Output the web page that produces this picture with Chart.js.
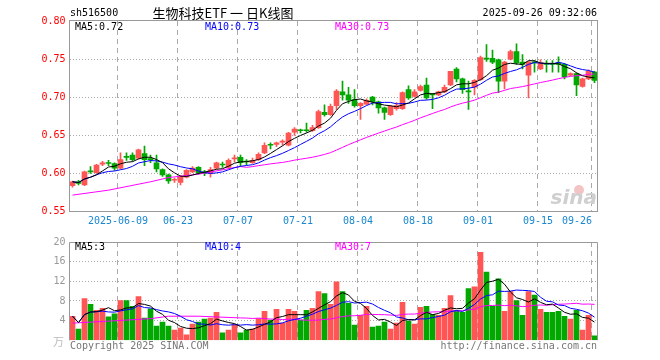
<!DOCTYPE html>
<html>
<head>
<meta charset="utf-8">
<script src="https://cdn.jsdelivr.net/npm/chart.js@4"></script>
<style>
  body { margin: 0; background: #fff; width: 660px; height: 360px; overflow: hidden; position: relative; }
  #kline { position: absolute; left: 0; top: 0; }
  #vol { position: absolute; left: 0; top: 232px; }
</style>
</head>
<body>
<canvas id="kline" width="660" height="232"></canvas>
<canvas id="vol" width="660" height="128"></canvas>
<script>
const dates = ('05-27 05-28 05-29 05-30 06-03 06-04 06-05 06-06 06-09 06-10 06-11 06-12 06-13 06-16 06-17 06-18 06-19 06-20 ' +
  '06-23 06-24 06-25 06-26 06-27 06-30 07-01 07-02 07-03 07-04 07-07 07-08 07-09 07-10 07-11 07-14 07-15 07-16 07-17 07-18 ' +
  '07-21 07-22 07-23 07-24 07-25 07-28 07-29 07-30 07-31 08-01 08-04 08-05 08-06 08-07 08-08 08-11 08-12 08-13 08-14 08-15 ' +
  '08-18 08-19 08-20 08-21 08-22 08-25 08-26 08-27 08-28 08-29 09-01 09-02 09-03 09-04 09-05 09-08 09-09 09-10 09-11 09-12 ' +
  '09-15 09-16 09-17 09-18 09-19 09-22 09-23 09-24 09-25 09-26').split(' ');

const tickDates = ['06-09', '06-23', '07-07', '07-21', '08-04', '08-18', '09-01', '09-15', '09-26'];
const tickText = ['2025-06-09', '06-23', '07-07', '07-21', '08-04', '08-18', '09-01', '09-15', '09-26'];

const opens = [
  0.584, 0.589, 0.585, 0.603, 0.601, 0.612, 0.614, 0.613, 0.607, 0.622,
  0.624, 0.620, 0.626, 0.619, 0.614, 0.605, 0.598, 0.591, 0.588, 0.595,
  0.602, 0.608, 0.602, 0.600, 0.607, 0.612, 0.608, 0.619, 0.621, 0.616,
  0.614, 0.618, 0.627, 0.638, 0.638, 0.641, 0.637, 0.654, 0.657, 0.657,
  0.656, 0.660, 0.680, 0.677, 0.689, 0.707, 0.703, 0.697, 0.689, 0.691,
  0.700, 0.694, 0.686, 0.677, 0.685, 0.685, 0.710, 0.701, 0.709, 0.716,
  0.704, 0.703, 0.707, 0.716, 0.737, 0.724, 0.708, 0.713, 0.723, 0.751,
  0.751, 0.749, 0.721, 0.750, 0.760, 0.746, 0.729, 0.746, 0.737, 0.744,
  0.744, 0.745, 0.743, 0.729, 0.731, 0.714, 0.724, 0.733
];
const highs = [
  0.590, 0.591, 0.603, 0.609, 0.612, 0.616, 0.617, 0.614, 0.627, 0.627,
  0.627, 0.632, 0.636, 0.624, 0.624, 0.606, 0.599, 0.594, 0.597, 0.605,
  0.609, 0.609, 0.604, 0.608, 0.615, 0.615, 0.619, 0.624, 0.624, 0.618,
  0.620, 0.627, 0.640, 0.640, 0.641, 0.644, 0.654, 0.660, 0.658, 0.666,
  0.663, 0.683, 0.690, 0.691, 0.710, 0.721, 0.713, 0.710, 0.693, 0.698,
  0.701, 0.695, 0.687, 0.689, 0.693, 0.707, 0.715, 0.710, 0.716, 0.725,
  0.705, 0.708, 0.716, 0.734, 0.739, 0.725, 0.721, 0.723, 0.754, 0.769,
  0.762, 0.750, 0.747, 0.762, 0.770, 0.756, 0.747, 0.748, 0.749, 0.748,
  0.748, 0.753, 0.744, 0.732, 0.732, 0.725, 0.736, 0.734
];
const lows = [
  0.582, 0.585, 0.584, 0.600, 0.600, 0.610, 0.610, 0.604, 0.606, 0.617,
  0.616, 0.619, 0.610, 0.614, 0.602, 0.596, 0.587, 0.588, 0.585, 0.594,
  0.601, 0.599, 0.597, 0.595, 0.606, 0.608, 0.607, 0.615, 0.609, 0.611,
  0.613, 0.617, 0.626, 0.632, 0.635, 0.637, 0.636, 0.650, 0.653, 0.654,
  0.655, 0.659, 0.675, 0.676, 0.684, 0.696, 0.692, 0.687, 0.671, 0.690,
  0.690, 0.679, 0.671, 0.676, 0.683, 0.684, 0.697, 0.700, 0.708, 0.697,
  0.685, 0.702, 0.706, 0.715, 0.720, 0.705, 0.684, 0.703, 0.722, 0.747,
  0.744, 0.706, 0.711, 0.749, 0.743, 0.737, 0.699, 0.733, 0.736, 0.733,
  0.733, 0.733, 0.724, 0.728, 0.702, 0.713, 0.723, 0.719
];
const closes = [
  0.589, 0.587, 0.602, 0.602, 0.611, 0.614, 0.613, 0.607, 0.618, 0.621,
  0.618, 0.631, 0.618, 0.618, 0.606, 0.598, 0.590, 0.592, 0.596, 0.604,
  0.607, 0.601, 0.600, 0.605, 0.614, 0.611, 0.617, 0.620, 0.614, 0.615,
  0.617, 0.625, 0.637, 0.637, 0.640, 0.642, 0.653, 0.658, 0.656, 0.656,
  0.660, 0.681, 0.677, 0.688, 0.708, 0.703, 0.696, 0.689, 0.692, 0.696,
  0.694, 0.686, 0.680, 0.688, 0.689, 0.706, 0.699, 0.707, 0.714, 0.699,
  0.703, 0.707, 0.713, 0.734, 0.724, 0.710, 0.707, 0.722, 0.752, 0.750,
  0.746, 0.721, 0.746, 0.760, 0.745, 0.743, 0.746, 0.745, 0.745, 0.743,
  0.743, 0.743, 0.727, 0.731, 0.716, 0.724, 0.734, 0.722
];
// volume, 万手
const volumes = [
  4.9, 2.3, 8.5, 7.3, 6.1, 6.5, 4.8, 5.4, 8.1, 8.1,
  6.9, 8.9, 4.5, 6.4, 2.9, 3.7, 2.9, 2.1, 2.5, 1.1,
  3.3, 3.7, 4.3, 4.5, 5.7, 1.5, 2.1, 3.2, 1.5, 2.1,
  2.3, 4.4, 5.9, 4.1, 6.3, 3.5, 6.3, 5.9, 4.1, 6.1,
  6.5, 9.9, 9.5, 7.3, 11.9, 9.9, 7.5, 3.1, 5.1, 6.9,
  2.7, 2.9, 3.7, 2.3, 3.5, 7.7, 3.9, 3.3, 6.7, 6.9,
  5.3, 5.1, 6.5, 9.1, 6.1, 5.7, 10.5, 10.9, 17.9, 13.9,
  6.9, 12.5, 5.9, 9.9, 8.1, 5.1, 9.9, 9.2, 6.3, 5.7,
  5.7, 5.9, 4.9, 4.3, 6.1, 2.1, 5.1, 0.9
];

// MA30 before a full 30-day window exists
const ma30Days = [0, 6, 13, 16, 21, 28];
const ma30Price = [0.5715, 0.578, 0.589, 0.5945, 0.599, 0.609];
const ma30Vol = [3.5, 3.9, 4.4, 4.9, 4.9, 4.55];

const red = '#ff5555';
const green = '#00a800';
const mono = { family: '"DejaVu Sans Mono", monospace', size: 10 };

function avg(a) { return a.reduce((s, v) => s + v, 0) / a.length; }
function movingAvg(arr, n) {
  return arr.map((_, i) => avg(arr.slice(Math.max(0, i - n + 1), i + 1)));
}
function ma30Line(arr, readVals) {
  return arr.map((_, i) => {
    if (i >= 29) return avg(arr.slice(i - 29, i + 1));
    const k = ma30Days.indexOf(i);
    return k >= 0 ? readVals[k] : null;
  });
}

const colors = closes.map((c, i) => c >= opens[i] ? red : green);
const tickIdx = tickDates.map(d => dates.indexOf(d));

function maLine(data, color) {
  return {
    type: 'line', data: data, borderColor: color, borderWidth: 1,
    pointRadius: 0, tension: 0, spanGaps: true, order: 0
  };
}

function xAxis(h) {
  return {
    offset: true,
    grid: { offset: true, drawTicks: false, color: c => tickIdx.includes(c.index) ? '#aaa' : 'rgba(0,0,0,0)' },
    border: { display: false, dash: [5, 4] },
    ticks: { display: false, autoSkip: false },
    afterFit: s => { s.height = h; }
  };
}

function text(ctx, str, x, y, color, font, align) {
  ctx.fillStyle = color;
  ctx.font = font;
  ctx.textAlign = align || 'left';
  ctx.textBaseline = 'middle';
  ctx.fillText(str, x, y);
}

const monoFont = '10px "DejaVu Sans Mono", monospace';

const klineDeco = {
  id: 'klineDeco',
  afterDraw(chart) {
    const { ctx, chartArea: a, scales: { x } } = chart;
    ctx.save();
    ctx.strokeStyle = '#999';
    ctx.lineWidth = 1;
    ctx.strokeRect(a.left, a.top - 0.5, a.right - a.left, a.bottom - a.top + 0.5);

    text(ctx, 'sh516500', 70, 13, '#000', monoFont);
    text(ctx, '生物科技ETF 一 日K线图', 223, 13, '#000', '13px "Noto Sans CJK SC"', 'center');
    text(ctx, '2025-09-26 09:32:06', 597, 13, '#000', monoFont, 'right');

    text(ctx, 'MA5:0.72', 75, 27, '#000', monoFont);
    text(ctx, 'MA10:0.73', 205, 27, '#0000ff', monoFont);
    text(ctx, 'MA30:0.73', 335, 27, '#ff00ff', monoFont);

    const half = (x.getPixelForValue(1) - x.getPixelForValue(0)) / 2;
    tickIdx.forEach((idx, k) => {
      const px = x.getPixelForValue(idx) - half + 0.5;
      const last = k === tickIdx.length - 1;
      text(ctx, tickText[k], px, 221, '#1a88d0', monoFont, last ? 'right' : 'center');
    });

    // sina watermark
    ctx.fillStyle = '#f3c4c4';
    ctx.beginPath();
    ctx.arc(579, 190, 5, 0, Math.PI * 2);
    ctx.fill();
    text(ctx, 'sina', 597, 199, '#cfcfcf', 'italic bold 20px "DejaVu Sans"', 'right');
    ctx.restore();
  }
};

const volDeco = {
  id: 'volDeco',
  afterDraw(chart) {
    const { ctx, chartArea: a } = chart;
    ctx.save();
    ctx.strokeStyle = '#999';
    ctx.lineWidth = 1;
    const top = Math.round(a.top) + 0.5;
    ctx.beginPath();
    ctx.moveTo(a.left, a.bottom);
    ctx.lineTo(a.left, top);
    ctx.lineTo(a.right, top);
    ctx.lineTo(a.right, a.bottom);
    ctx.stroke();

    text(ctx, 'MA5:3', 75, 15, '#000', monoFont);
    text(ctx, 'MA10:4', 205, 15, '#0000ff', monoFont);
    text(ctx, 'MA30:7', 335, 15, '#ff00ff', monoFont);

    text(ctx, '万', 64, 110, '#bbb', '11px "Noto Sans CJK SC"', 'right');
    text(ctx, 'Copyright 2025 SINA.COM', 70, 114, '#777', monoFont);
    text(ctx, 'http://finance.sina.com.cn', 597, 114, '#777', monoFont, 'right');
    ctx.restore();
  }
};

new Chart(document.getElementById('kline'), {
  type: 'bar',
  data: {
    labels: dates,
    datasets: [
      maLine(movingAvg(closes, 5), '#000'),
      maLine(movingAvg(closes, 10), '#0000ff'),
      maLine(ma30Line(closes, ma30Price), '#ff00ff'),
      {
        data: opens.map((o, i) => [o, closes[i]]),
        backgroundColor: colors, barThickness: 5, minBarLength: 1,
        grouped: false, borderWidth: 0, order: 1
      },
      {
        data: lows.map((l, i) => [l, highs[i]]),
        backgroundColor: colors, barThickness: 1,
        grouped: false, borderWidth: 0, order: 2
      }
    ]
  },
  options: {
    responsive: false,
    animation: false,
    layout: { padding: { left: 0, right: 62.5, top: 21, bottom: 0 } },
    plugins: { legend: { display: false }, tooltip: { enabled: false } },
    scales: {
      x: xAxis(20.5),
      y: {
        min: 0.55, max: 0.80,
        ticks: { stepSize: 0.05, color: '#ff0000', font: mono, padding: 4, callback: v => v.toFixed(2) },
        grid: { drawTicks: false, color: c => (c.index === 0 || c.index === 5) ? 'rgba(0,0,0,0)' : '#aaa' },
        border: { display: false, dash: [1, 2] },
        afterFit: s => { s.width = 69.5; }
      }
    }
  },
  plugins: [klineDeco]
});

new Chart(document.getElementById('vol'), {
  type: 'bar',
  data: {
    labels: dates,
    datasets: [
      maLine(movingAvg(volumes, 5), '#000'),
      maLine(movingAvg(volumes, 10), '#0000ff'),
      maLine(ma30Line(volumes, ma30Vol), '#ff00ff'),
      {
        data: volumes, backgroundColor: colors, barThickness: 5,
        borderWidth: 0, order: 1
      }
    ]
  },
  options: {
    responsive: false,
    animation: false,
    layout: { padding: { left: 0, right: 62.5, top: 8.3, bottom: 0 } },
    plugins: { legend: { display: false }, tooltip: { enabled: false } },
    scales: {
      x: xAxis(19.7),
      y: {
        min: 0, max: 20,
        ticks: { stepSize: 4, color: '#999', font: mono, padding: 4, callback: v => v === 0 ? '' : v },
        grid: { drawTicks: false, color: c => (c.index === 0 || c.index === 5) ? 'rgba(0,0,0,0)' : '#aaa' },
        border: { display: false, dash: [1, 2] },
        afterFit: s => { s.width = 69.5; }
      }
    }
  },
  plugins: [volDeco]
});
</script>
</body>
</html>
